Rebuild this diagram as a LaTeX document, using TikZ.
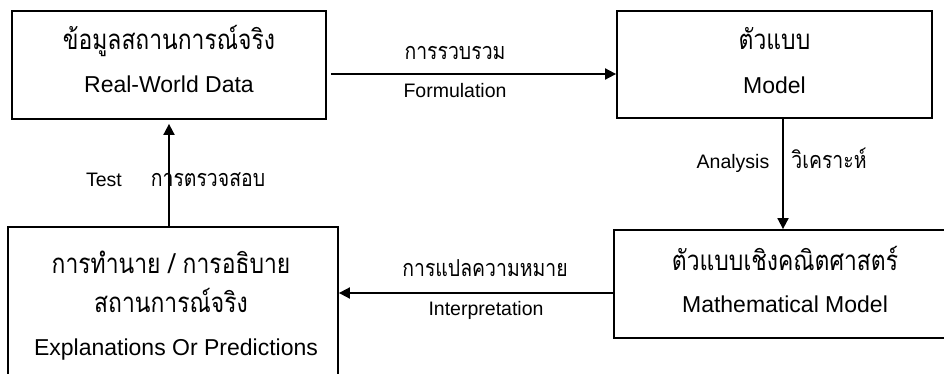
\documentclass[tikz,border=0pt]{standalone}
\usepackage{fontspec}
\setmainfont{Liberation Sans}
\newfontfamily\thai[Script=Thai,Scale=1.2,FakeStretch=0.83]{Loma}
\usetikzlibrary{arrows.meta}
\begin{document}
\begin{tikzpicture}[x=1pt,y=-1pt,
  box/.style={draw,line width=1.8pt,inner sep=0pt},
  flow/.style={line width=1.8pt,-{Triangle[length=11pt,width=11pt]}},
  entxt/.style={anchor=base,inner sep=0pt,font=\fontsize{23}{26}\selectfont},
  thtxt/.style={anchor=base,inner sep=0pt,font=\thai\fontsize{23}{26}\selectfont},
  enlab/.style={anchor=base,inner sep=0pt,font=\fontsize{19.5}{22}\selectfont},
  thlab/.style={anchor=base,inner sep=0pt,font=\thai\fontsize{19.5}{22}\selectfont}]
\useasboundingbox (0,0) rectangle (944,374);

% boxes
\node[box,minimum width=314pt,minimum height=108pt] (data) at (169,65) {};
\node[box,minimum width=315pt,minimum height=107pt] (model) at (774.5,64.5) {};
\node[box,minimum width=330pt,minimum height=163pt] (pred) at (173,308.5) {};
\node[box,minimum width=342pt,minimum height=108pt] (math) at (785,284) {};

% box texts
\node[thtxt] (t1) at (169,50) {ข้อมูลสถานการณ์จริง};
\node[entxt] (e1) at (169,93) {Real-World Data};
\node[thtxt] (t2) at (774.5,50) {ตัวแบบ};
\node[entxt] (e2) at (774.5,94) {Model};
\node[thtxt] (t3a) at (171,273) {การทำนาย / การอธิบาย};
\node[thtxt] (t3b) at (171,312) {สถานการณ์จริง};
\node[entxt] (e3) at (176,355) {Explanations Or Predictions};
\node[thtxt] (t4) at (785,270) {ตัวแบบเชิงคณิตศาสตร์};
\node[entxt] (e4) at (785,312) {Mathematical Model};

% connectors
\draw[flow] ([xshift=4pt,yshift=-9pt]data.east) -- ([yshift=-9pt]data.east -| model.west);
\draw[flow] ([xshift=8.5pt]model.south) -- ([xshift=8.5pt]model.south |- math.north);
\draw[flow] ([yshift=-9pt]math.west) -- ([yshift=-9pt]math.west -| pred.east);
\draw[flow] (pred.north -| data.south) -- ([yshift=-4pt]data.south);

% connector labels
\node[thlab] (l1) at (455,60) {การรวบรวม};
\node[enlab] (l2) at (455,98) {Formulation};
\node[enlab] (l3) at (733,169) {Analysis};
\node[thlab] (l4) at (829,169) {วิเคราะห์};
\node[thlab] (l5) at (485,276) {การแปลความหมาย};
\node[enlab] (l6) at (486,315) {Interpretation};
\node[enlab] (l7) at (104,186) {Test};
\node[thlab] (l8) at (208,186) {การตรวจสอบ};
\end{tikzpicture}
\end{document}
